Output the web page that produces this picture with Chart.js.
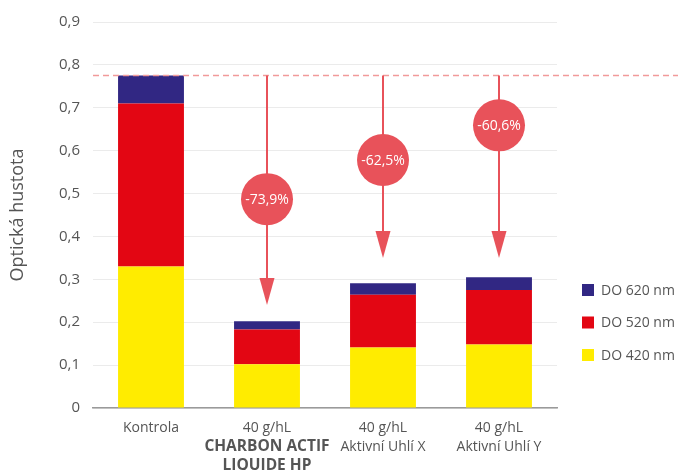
<!DOCTYPE html>
<html>
<head>
<meta charset="utf-8">
<script src="https://cdn.jsdelivr.net/npm/chart.js@4.4.0/dist/chart.umd.min.js"></script>
<style>
  html, body { margin: 0; padding: 0; background: #fff; }
  #wrap { width: 678px; height: 470px; }
</style>
</head>
<body>
<div id="wrap"><canvas id="myChart" width="678" height="470"></canvas></div>
<script>
var categories = ['Kontrola', 'CHARBON ACTIF', 'Aktivní Uhlí X', 'Aktivní Uhlí Y'];
var labelTop = ['Kontrola', '40 g/hL', '40 g/hL', '40 g/hL'];
var labelRest = [[], ['CHARBON ACTIF', 'LIQUIDE HP'], ['Aktivní Uhlí X'], ['Aktivní Uhlí Y']];
var boldRest = [false, true, false, false];

var do420 = [0.330, 0.102, 0.141, 0.148];
var do520 = [0.380, 0.081, 0.123, 0.127];
var do620 = [0.065, 0.019, 0.027, 0.030];

var yTicks = [0, 0.1, 0.2, 0.3, 0.4, 0.5, 0.6, 0.7, 0.8, 0.9];

// arrow tips and badge centres, in y-axis units (null = no arrow)
var arrowTip = [null, 0.240, 0.350, 0.350];
var badgeAt = [null, 0.487, 0.578, 0.659];

var barColors = ['#FFEC00', '#E30613', '#312783'];
var accent = '#E8525A';
var textGrey = '#555555';
var font = '"Open Sans", sans-serif';

var totals = do420.map(function (v, i) { return v + do520[i] + do620[i]; });

function pct(i) {
  var p = (totals[i] / totals[0] - 1) * 100;
  return p.toFixed(1).replace('.', ',') + '%';
}

var overlay = {
  id: 'overlay',
  afterDatasetsDraw: function (chart) {
    var ctx = chart.ctx;
    var x = chart.scales.x, y = chart.scales.y;
    var area = chart.chartArea;
    var refY = y.getPixelForValue(totals[0]);

    ctx.save();
    // reference level of the control
    ctx.strokeStyle = '#F19A9A';
    ctx.lineWidth = 1.5;
    ctx.setLineDash([6, 4]);
    ctx.beginPath();
    ctx.moveTo(area.left, refY);
    ctx.lineTo(chart.width, refY);
    ctx.stroke();
    ctx.setLineDash([]);

    for (var i = 0; i < categories.length; i++) {
      if (arrowTip[i] === null) continue;
      var cx = x.getPixelForValue(i);
      var tip = y.getPixelForValue(arrowTip[i]);
      var head = 27;
      ctx.strokeStyle = accent;
      ctx.fillStyle = accent;
      ctx.lineWidth = 2;
      ctx.beginPath();
      ctx.moveTo(cx, refY);
      ctx.lineTo(cx, tip - head + 2);
      ctx.stroke();
      ctx.beginPath();
      ctx.moveTo(cx - 7.5, tip - head);
      ctx.lineTo(cx + 7.5, tip - head);
      ctx.lineTo(cx, tip);
      ctx.closePath();
      ctx.fill();

      var by = y.getPixelForValue(badgeAt[i]);
      ctx.beginPath();
      ctx.arc(cx, by, 26, 0, Math.PI * 2);
      ctx.fill();
      ctx.fillStyle = '#fff';
      ctx.font = '14px ' + font;
      ctx.textAlign = 'center';
      ctx.textBaseline = 'middle';
      ctx.fillText(pct(i), cx, by + 1);
    }

    // category labels under the axis
    ctx.fillStyle = textGrey;
    ctx.textAlign = 'center';
    ctx.textBaseline = 'middle';
    for (var j = 0; j < categories.length; j++) {
      var lx = x.getPixelForValue(j);
      ctx.font = '14px ' + font;
      ctx.fillText(labelTop[j], lx, area.bottom + 20);
      ctx.font = (boldRest[j] ? 'bold 15.5px ' : '14px ') + font;
      labelRest[j].forEach(function (t, k) {
        ctx.fillText(t, lx, area.bottom + 39 + k * 19);
      });
    }

    // legend, top to bottom: 620, 520, 420
    var names = chart.data.datasets.map(function (d) { return d.label; });
    ctx.textAlign = 'left';
    ctx.font = '14px ' + font;
    for (var k = 0; k < names.length; k++) {
      var idx = names.length - 1 - k;
      var ly = 290 + k * 32.5;
      ctx.fillStyle = barColors[idx];
      ctx.fillRect(582, ly - 6, 12, 12);
      ctx.fillStyle = textGrey;
      ctx.fillText(names[idx], 601, ly + 1);
    }
    ctx.restore();
  }
};

new Chart(document.getElementById('myChart'), {
  type: 'bar',
  data: {
    labels: categories,
    datasets: [
      { label: 'DO 420 nm', data: do420, backgroundColor: barColors[0] },
      { label: 'DO 520 nm', data: do520, backgroundColor: barColors[1] },
      { label: 'DO 620 nm', data: do620, backgroundColor: barColors[2] }
    ]
  },
  options: {
    responsive: false,
    animation: false,
    layout: { padding: { top: 20, right: 121, left: 0, bottom: 0 } },
    datasets: { bar: { categoryPercentage: 0.8, barPercentage: 0.71 } },
    plugins: { legend: { display: false }, tooltip: { enabled: false } },
    scales: {
      x: {
        stacked: true,
        grid: { display: false },
        border: { color: '#9a9a9a', width: 1.5 },
        ticks: { display: false },
        afterFit: function (s) { s.height = 62; }
      },
      y: {
        stacked: true,
        min: 0,
        max: 0.9,
        afterBuildTicks: function (s) { s.ticks = yTicks.map(function (v) { return { value: v }; }); },
        afterFit: function (s) { s.width = 93; },
        border: { display: false },
        grid: { color: '#ebebeb', lineWidth: 1, drawTicks: false },
        ticks: {
          padding: 13,
          color: textGrey,
          font: { family: font, size: 15 },
          callback: function (v) { return v === 0 ? '0' : v.toFixed(1).replace('.', ','); }
        },
        title: {
          display: true,
          text: 'Optická hustota',
          color: textGrey,
          font: { family: font, size: 18 },
          padding: { top: 7, bottom: 0 }
        }
      }
    }
  },
  plugins: [overlay]
});
</script>
</body>
</html>
